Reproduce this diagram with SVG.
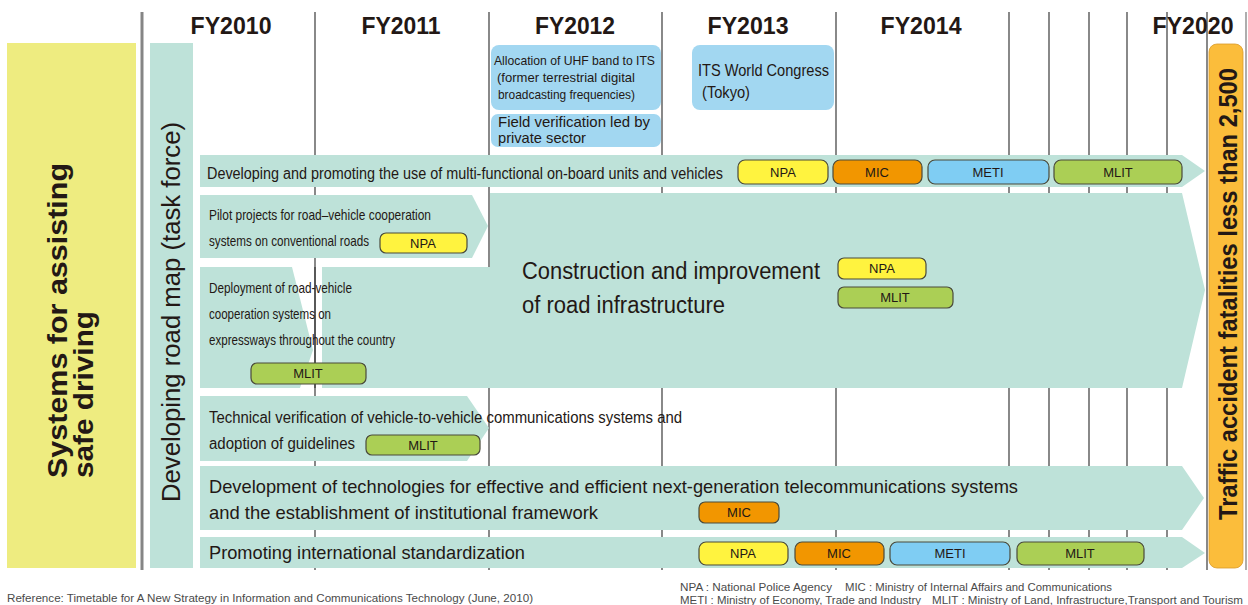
<svg xmlns="http://www.w3.org/2000/svg" width="1248" height="605" viewBox="0 0 1248 605">
<style>
text{font-family:"Liberation Sans",Arial,sans-serif;fill:#231815}
.yr{font-size:23px;font-weight:bold;text-anchor:middle}
.vl{stroke:#3a3a3a;stroke-width:1.2}
.teal{fill:#bee2d9}
.info{fill:#a2d7f1}
.pill{stroke:#4a4a3a;stroke-width:1.2}
.npa{fill:#fff33f}.mic{fill:#f29600}.meti{fill:#7fcdf3}.mlit{fill:#abcf55}
.pt{font-size:13px;text-anchor:middle}
.r15{font-size:15px}
.r16{font-size:16px}
.r19{font-size:19px}
.foot{font-size:11px;fill:#4a4a4a}
</style>
<rect width="1248" height="605" fill="#fff"/>
<g id="years">
<text class="yr" x="231" y="34" textLength="81" lengthAdjust="spacingAndGlyphs">FY2010</text>
<text class="yr" x="401" y="34" textLength="79" lengthAdjust="spacingAndGlyphs">FY2011</text>
<text class="yr" x="575" y="34" textLength="80" lengthAdjust="spacingAndGlyphs">FY2012</text>
<text class="yr" x="748" y="34" textLength="81" lengthAdjust="spacingAndGlyphs">FY2013</text>
<text class="yr" x="921" y="34" textLength="81" lengthAdjust="spacingAndGlyphs">FY2014</text>
<text class="yr" x="1193" y="34" textLength="81" lengthAdjust="spacingAndGlyphs">FY2020</text>
</g>
<g id="gridlines">
<line x1="142" y1="12" x2="142" y2="570" stroke="#858585" stroke-width="3"/>
<line class="vl" x1="315" y1="12" x2="315" y2="570"/>
<line class="vl" x1="489" y1="12" x2="489" y2="570"/>
<line class="vl" x1="662" y1="12" x2="662" y2="570"/>
<line class="vl" x1="836" y1="12" x2="836" y2="570"/>
<line class="vl" x1="1009" y1="12" x2="1009" y2="570"/>
<line class="vl" x1="1049" y1="12" x2="1049" y2="570"/>
<line class="vl" x1="1089" y1="12" x2="1089" y2="570"/>
<line class="vl" x1="1127" y1="12" x2="1127" y2="570"/>
<line class="vl" x1="1167" y1="12" x2="1167" y2="570"/>
<line class="vl" x1="1207" y1="12" x2="1207" y2="570"/>
<line x1="1246" y1="12" x2="1246" y2="570" stroke="#777" stroke-width="1.2"/>
</g>
<g id="left-label">
<rect x="7" y="43" width="129" height="525" fill="#eeec80"/>
<text transform="translate(67,478) rotate(-90)" font-size="28" font-weight="bold" textLength="315" lengthAdjust="spacingAndGlyphs">Systems for assisting</text>
<text transform="translate(93,478) rotate(-90)" font-size="28" font-weight="bold" textLength="167" lengthAdjust="spacingAndGlyphs">safe driving</text>
</g>
<g id="roadmap-label">
<rect class="teal" x="150" y="43" width="43" height="525"/>
<text transform="translate(180,502) rotate(-90)" font-size="25" textLength="380" lengthAdjust="spacingAndGlyphs">Developing road map (task force)</text>
</g>
<g id="uhf-box">
<rect class="info" x="491" y="45" width="170" height="65" rx="8"/>
<text x="494" y="65" font-size="13" textLength="161" lengthAdjust="spacingAndGlyphs">Allocation of UHF band to ITS</text>
<text x="497" y="82" font-size="13" textLength="138" lengthAdjust="spacingAndGlyphs">(former terrestrial digital</text>
<text x="498" y="99" font-size="13" textLength="137" lengthAdjust="spacingAndGlyphs">broadcasting frequencies)</text>
</g>
<g id="field-box">
<rect class="info" x="491" y="114" width="170" height="33" rx="7"/>
<text x="498" y="127" font-size="14.5" textLength="152" lengthAdjust="spacingAndGlyphs">Field verification led by</text>
<text x="498" y="143" font-size="14.5" textLength="88" lengthAdjust="spacingAndGlyphs">private sector</text>
</g>
<g id="its-box">
<rect class="info" x="692" y="45" width="142" height="65" rx="8"/>
<text x="698" y="76" font-size="16.5" textLength="131" lengthAdjust="spacingAndGlyphs">ITS World Congress</text>
<text x="702" y="98" font-size="16.5" textLength="48" lengthAdjust="spacingAndGlyphs">(Tokyo)</text>
</g>
<g id="row-onboard">
<polygon class="teal" points="200,155 1182,155 1205,171 1182,187 200,187"/>
<text class="r16" x="207" y="179" textLength="516" lengthAdjust="spacingAndGlyphs">Developing and promoting the use of multi-functional on-board units and vehicles</text>
<rect class="pill npa" x="738" y="160" width="90" height="24" rx="7"/><text class="pt" x="783" y="177">NPA</text>
<rect class="pill mic" x="833" y="160" width="89" height="24" rx="7"/><text class="pt" x="877" y="177">MIC</text>
<rect class="pill meti" x="928" y="160" width="121" height="24" rx="7"/><text class="pt" x="988" y="177">METI</text>
<rect class="pill mlit" x="1054" y="160" width="128" height="24" rx="7"/><text class="pt" x="1118" y="177">MLIT</text>
</g>
<g id="row-pilot">
<polygon class="teal" points="200,195 472,195 488,226 472,258 200,258"/>
<text class="r15" x="209" y="220" textLength="222" lengthAdjust="spacingAndGlyphs">Pilot projects for road–vehicle cooperation</text>
<text class="r15" x="209" y="246" textLength="160" lengthAdjust="spacingAndGlyphs">systems on conventional roads</text>
<rect class="pill npa" x="380" y="233" width="87" height="20" rx="6"/><text class="pt" x="423" y="248">NPA</text>
</g>
<g id="row-construction">
<polygon class="teal" points="490,193 1182,193 1205,290 1182,388 322,388 322,267 490,267"/>
<text x="522" y="279" font-size="23" textLength="298" lengthAdjust="spacingAndGlyphs">Construction and improvement</text>
<text x="522" y="313" font-size="23" textLength="203" lengthAdjust="spacingAndGlyphs">of road infrastructure</text>
<rect class="pill npa" x="838" y="258" width="88" height="21" rx="6"/><text class="pt" x="882" y="273">NPA</text>
<rect class="pill mlit" x="838" y="287" width="115" height="21" rx="6"/><text class="pt" x="895" y="302">MLIT</text>
</g>
<g id="row-deployment">
<polygon class="teal" points="200,267 292,267 313,350 300,388 200,388"/>
<line class="vl" x1="315" y1="267" x2="315" y2="388"/>
<text class="r15" x="209" y="293" textLength="143" lengthAdjust="spacingAndGlyphs">Deployment of road-vehicle</text>
<text class="r15" x="209" y="319" textLength="122" lengthAdjust="spacingAndGlyphs">cooperation systems on</text>
<text class="r15" x="209" y="345" textLength="186" lengthAdjust="spacingAndGlyphs">expressways throughout the country</text>
<rect class="pill mlit" x="251" y="363" width="115" height="21" rx="6"/><text class="pt" x="308" y="378">MLIT</text>
</g>
<g id="row-v2v">
<polygon class="teal" points="200,396 467,396 489,428 467,461 200,461"/>
<text class="r16" x="209" y="423" textLength="473" lengthAdjust="spacingAndGlyphs">Technical verification of vehicle-to-vehicle communications systems and</text>
<text class="r16" x="209" y="449" textLength="146" lengthAdjust="spacingAndGlyphs">adoption of guidelines</text>
<rect class="pill mlit" x="366" y="435" width="114" height="20" rx="6"/><text class="pt" x="423" y="450">MLIT</text>
</g>
<g id="row-telecom">
<polygon class="teal" points="200,466 1182,466 1204,498 1182,530 200,530"/>
<text class="r19" x="209" y="493" textLength="809" lengthAdjust="spacingAndGlyphs">Development of technologies for effective and efficient next-generation telecommunications systems</text>
<text class="r19" x="209" y="519" textLength="389" lengthAdjust="spacingAndGlyphs">and the establishment of institutional framework</text>
<rect class="pill mic" x="699" y="502" width="80" height="21" rx="6"/><text class="pt" x="739" y="517">MIC</text>
</g>
<g id="row-standard">
<polygon class="teal" points="200,537 1182,537 1205,553 1182,568 200,568"/>
<text class="r19" x="209" y="559" textLength="316" lengthAdjust="spacingAndGlyphs">Promoting international standardization</text>
<rect class="pill npa" x="699" y="542" width="89" height="23" rx="7"/><text class="pt" x="743" y="558">NPA</text>
<rect class="pill mic" x="795" y="542" width="89" height="23" rx="7"/><text class="pt" x="839" y="558">MIC</text>
<rect class="pill meti" x="890" y="542" width="120" height="23" rx="7"/><text class="pt" x="950" y="558">METI</text>
<rect class="pill mlit" x="1017" y="542" width="127" height="23" rx="7"/><text class="pt" x="1080" y="558">MLIT</text>
</g>
<g id="goal">
<rect x="1209" y="44" width="34" height="524" rx="8" fill="#fbbd3b" stroke="#d99a2a" stroke-width="0.8"/>
<text transform="translate(1237,520) rotate(-90)" font-size="26" font-weight="bold" textLength="452" lengthAdjust="spacingAndGlyphs">Traffic accident fatalities less than 2,500</text>
</g>
<g id="footer">
<text class="foot" x="7" y="602" textLength="526" lengthAdjust="spacingAndGlyphs">Reference: Timetable for A New Strategy in Information and Communications Technology (June, 2010)</text>
<text class="foot" x="680" y="591" textLength="152" lengthAdjust="spacingAndGlyphs">NPA : National Police Agency</text>
<text class="foot" x="845" y="591" textLength="267" lengthAdjust="spacingAndGlyphs">MIC : Ministry of Internal Affairs and Communications</text>
<text class="foot" x="680" y="604" textLength="241" lengthAdjust="spacingAndGlyphs">METI : Ministry of Economy, Trade and Industry</text>
<text class="foot" x="932" y="604" textLength="311" lengthAdjust="spacingAndGlyphs">MLIT : Ministry of Land, Infrastructure,Transport and Tourism</text>
</g>
</svg>
